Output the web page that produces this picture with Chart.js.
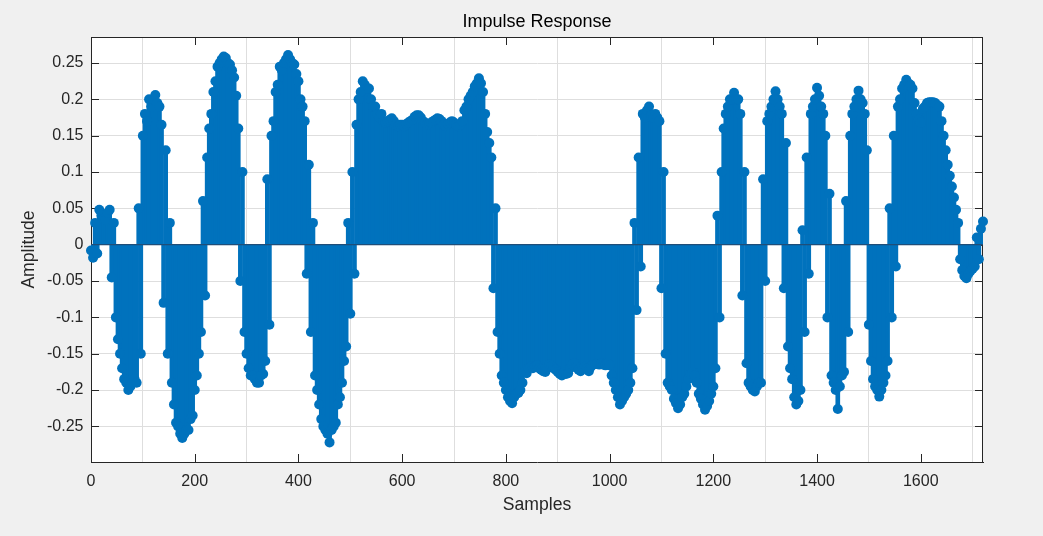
<!DOCTYPE html>
<html>
<head>
<meta charset="utf-8">
<script src="https://cdn.jsdelivr.net/npm/chart.js@4.4.0/dist/chart.umd.min.js"></script>
<style>
html,body{margin:0;padding:0;background:#f0f0f0;overflow:hidden}
canvas{display:block}
</style>
</head>
<body>
<canvas id="c" width="1043" height="536"></canvas>
<script>
// ---- data ----
const sampleStep = 4; // one value every 4 samples
const amplitude = [
-0.008,-0.018,0.03,-0.012,0.048,0.04,0.035,0.034,0.044,0.048,
-0.045,0.03,-0.1,-0.13,-0.15,-0.17,-0.185,-0.19,-0.2,-0.195,
-0.19,-0.185,-0.19,0.05,-0.15,0.15,0.18,0.17,0.2,0.19,
0.2,0.206,0.195,0.19,0.165,-0.08,0.13,-0.15,0.03,-0.19,
-0.22,-0.245,-0.25,-0.26,-0.266,-0.26,-0.255,-0.255,-0.24,-0.235,
-0.2,-0.18,-0.15,-0.12,0.06,-0.07,0.12,0.16,0.18,0.21,
0.225,0.245,0.25,0.255,0.259,0.257,0.25,0.248,0.24,0.23,
0.205,0.16,-0.05,0.1,-0.12,-0.15,-0.17,-0.18,-0.18,-0.185,
-0.19,-0.19,-0.18,-0.178,-0.16,0.09,-0.11,0.15,0.17,0.21,
0.22,0.245,0.24,0.25,0.255,0.261,0.255,0.25,0.248,0.235,
0.225,0.2,0.19,0.17,-0.04,0.11,-0.12,0.03,-0.18,-0.2,
-0.22,-0.24,-0.25,-0.255,-0.26,-0.272,-0.255,-0.25,-0.245,-0.22,
-0.21,-0.19,-0.16,-0.14,0.03,-0.095,0.1,-0.04,0.165,0.2,
0.21,0.225,0.22,0.215,0.215,0.2,0.19,0.19,0.18,0.175,
0.18,0.17,0.168,0.17,0.172,0.174,0.17,0.165,0.163,0.165,
0.165,0.163,0.166,0.168,0.17,0.172,0.176,0.178,0.178,0.175,
0.17,0.168,0.165,0.166,0.168,0.17,0.172,0.174,0.173,0.17,
0.165,0.163,0.166,0.168,0.17,0.168,0.165,0.163,0.165,0.17,
0.185,0.19,0.2,0.205,0.21,0.218,0.222,0.229,0.222,0.21,
0.18,0.155,0.14,0.12,-0.06,0.05,-0.12,-0.15,-0.18,-0.19,
-0.2,-0.21,-0.215,-0.218,-0.21,-0.205,-0.204,-0.2,-0.19,-0.175,
-0.177,-0.17,-0.168,-0.17,-0.168,-0.166,-0.17,-0.172,-0.174,-0.175,
-0.17,-0.165,-0.167,-0.17,-0.172,-0.175,-0.178,-0.18,-0.176,-0.178,
-0.177,-0.17,-0.165,-0.163,-0.168,-0.172,-0.174,-0.17,-0.168,-0.17,
-0.174,-0.168,-0.165,-0.164,-0.163,-0.165,-0.163,-0.165,-0.166,-0.163,
-0.166,-0.18,-0.19,-0.2,-0.21,-0.22,-0.215,-0.21,-0.205,-0.2,
-0.19,-0.17,0.03,-0.09,0.12,-0.03,0.18,0.175,0.185,0.19,
0.178,0.175,0.18,0.175,0.17,-0.06,0.1,-0.15,-0.19,-0.195,
-0.2,-0.212,-0.218,-0.225,-0.22,-0.21,-0.205,-0.195,-0.185,-0.178,
-0.175,-0.18,-0.19,-0.205,-0.212,-0.22,-0.227,-0.222,-0.215,-0.205,
-0.195,-0.17,0.04,-0.1,0.1,0.16,0.18,0.19,0.2,0.2,
0.209,0.2,0.2,0.18,-0.07,0.1,-0.163,-0.19,-0.195,-0.2,
-0.202,-0.195,-0.19,-0.19,0.09,-0.05,0.17,0.18,0.19,0.2,
0.211,0.2,0.19,0.18,-0.06,0.14,-0.14,-0.17,-0.185,-0.21,
-0.22,-0.215,-0.2,0.02,-0.12,0.12,-0.04,0.18,0.19,0.2,
0.216,0.205,0.19,0.18,0.15,-0.1,0.07,-0.18,-0.19,-0.2,
-0.226,-0.195,-0.18,-0.175,0.06,-0.12,0.15,0.18,0.19,0.2,
0.212,0.2,0.195,0.18,0.13,-0.11,-0.16,-0.185,-0.195,-0.2,
-0.209,-0.2,-0.19,-0.18,-0.16,0.05,-0.1,0.15,-0.03,0.19,
0.2,0.215,0.22,0.227,0.222,0.22,0.215,0.195,0.18,0.172,
0.168,0.187,0.19,0.195,0.196,0.196,0.196,0.195,0.192,0.19,
0.17,0.15,0.13,0.11,0.095,0.08,0.065,0.048,0.03,-0.02,
-0.035,-0.043,-0.046,-0.04,-0.036,-0.033,-0.03,0.01,-0.02,0.022,
0.032
];
const xTicks = [0, 200, 400, 600, 800, 1000, 1200, 1400, 1600];
const yTicks = [-0.25, -0.2, -0.15, -0.1, -0.05, 0, 0.05, 0.1, 0.15, 0.2, 0.25];
const yTickLabels = ['-0.25', '-0.2', '-0.15', '-0.1', '-0.05', '0', '0.05', '0.1', '0.15', '0.2', '0.25'];
const xRange = [0, 1720];
const yRange = [-0.299, 0.2858];

// ---- derived structures ----
const samples = amplitude.map((_, i) => i * sampleStep);
const points = samples.map((s, i) => ({ x: s, y: amplitude[i] }));
const baseline = [{ x: xRange[0], y: 0 }, { x: xRange[1], y: 0 }];

const FONT = '"Liberation Sans", Arial, Helvetica, sans-serif';
const BLUE = '#0072BD';
const AX = '#262626';

const framePlugin = {
  id: 'frame',
  beforeDraw(chart) {
    const { ctx, chartArea: a } = chart;
    ctx.save();
    ctx.fillStyle = '#ffffff';
    ctx.fillRect(a.left, a.top, a.right - a.left, a.bottom - a.top);
    ctx.restore();
  },
  beforeDatasetsDraw(chart) {
    const { ctx, chartArea: a, scales } = chart;
    const L = 8;
    ctx.save();
    ctx.strokeStyle = AX;
    ctx.lineWidth = 1;
    ctx.beginPath();
    ctx.moveTo(a.left, a.top + 0.5); ctx.lineTo(a.right, a.top + 0.5);
    ctx.moveTo(a.right - 0.5, a.top); ctx.lineTo(a.right - 0.5, a.bottom);
    xTicks.forEach(v => {
      const px = Math.round(scales.x.getPixelForValue(v)) + 0.5;
      ctx.moveTo(px, a.bottom); ctx.lineTo(px, a.bottom - L);
      ctx.moveTo(px, a.top); ctx.lineTo(px, a.top + L);
    });
    yTicks.forEach(v => {
      const py = Math.round(scales.y.getPixelForValue(v)) + 0.5;
      ctx.moveTo(a.left, py); ctx.lineTo(a.left + L, py);
      ctx.moveTo(a.right, py); ctx.lineTo(a.right - L, py);
    });
    ctx.stroke();
    ctx.restore();
  }
};

new Chart(document.getElementById('c'), {
  type: 'bar',
  data: {
    datasets: [
      {
        type: 'line',
        label: 'markers',
        data: points,
        showLine: false,
        pointRadius: 5,
        pointHoverRadius: 5,
        pointBackgroundColor: BLUE,
        pointBorderWidth: 0,
        borderColor: BLUE,
        clip: false,
        order: 1
      },
      {
        type: 'line',
        label: 'baseline',
        data: baseline,
        borderColor: '#1f4e79',
        borderWidth: 1.2,
        pointRadius: 0,
        order: 2
      },
      {
        type: 'bar',
        label: 'stems',
        data: points,
        backgroundColor: BLUE,
        borderWidth: 0,
        barThickness: 4,
        grouped: false,
        order: 3
      }
    ]
  },
  options: {
    responsive: false,
    animation: false,
    devicePixelRatio: 1,
    events: [],
    layout: { padding: { left: 0, right: 60, top: 0, bottom: 0 } },
    plugins: {
      legend: { display: false },
      tooltip: { enabled: false },
      title: {
        display: true,
        text: 'Impulse Response',
        fullSize: false,
        color: '#000000',
        font: { family: FONT, size: 18, weight: 'normal', lineHeight: 1.2 },
        padding: { top: 11, bottom: 4.4 }
      }
    },
    scales: {
      x: {
        type: 'linear',
        min: xRange[0],
        max: xRange[1],
        offset: false,
        afterBuildTicks: s => { s.ticks = xTicks.map(v => ({ value: v })); },
        afterFit: s => { s.height = 74; },
        ticks: {
          color: AX,
          font: { family: FONT, size: 16 },
          padding: 10,
          maxRotation: 0,
          autoSkip: false,
          callback: v => String(v)
        },
        grid: { color: '#dedede', drawTicks: false, lineWidth: 1 },
        border: { color: AX, width: 1 },
        title: {
          display: true,
          text: 'Samples',
          color: AX,
          font: { family: FONT, size: 17.6, lineHeight: 1.2 },
          padding: { top: 0, bottom: 20.4 }
        }
      },
      y: {
        type: 'linear',
        min: yRange[0],
        max: yRange[1],
        afterBuildTicks: s => { s.ticks = yTicks.map(v => ({ value: v })); },
        afterFit: s => { s.width = 91; },
        ticks: {
          color: AX,
          font: { family: FONT, size: 16 },
          padding: 7.5,
          autoSkip: false,
          callback: v => yTickLabels[yTicks.findIndex(t => Math.abs(t - v) < 1e-9)]
        },
        grid: { color: '#dedede', drawTicks: false, lineWidth: 1 },
        border: { color: AX, width: 1 },
        title: {
          display: true,
          text: 'Amplitude',
          color: AX,
          font: { family: FONT, size: 17.6, lineHeight: 1.2 },
          padding: { top: 18.5, bottom: 0 }
        }
      }
    }
  },
  plugins: [framePlugin]
});
</script>
</body>
</html>
